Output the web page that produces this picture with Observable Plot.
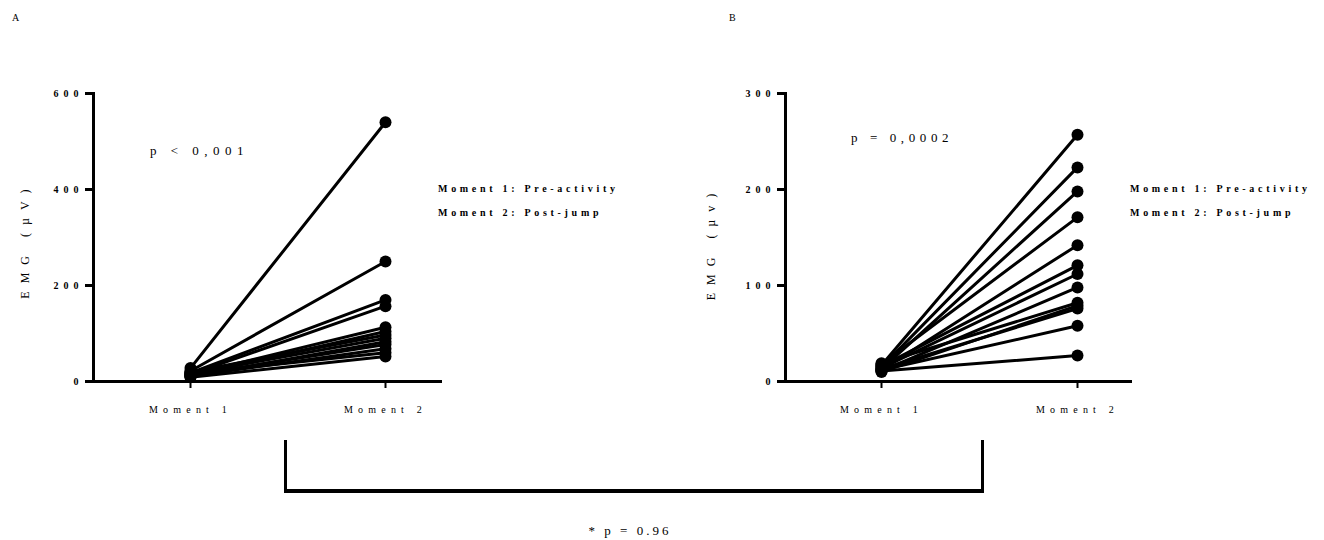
<!DOCTYPE html>
<html>
<head>
<meta charset="utf-8">
<script src="https://cdn.jsdelivr.net/npm/d3@7"></script>
<script src="https://cdn.jsdelivr.net/npm/@observablehq/plot@0.6"></script>
<style>
  html, body { margin: 0; padding: 0; background: #fff; }
  #root { position: relative; width: 1324px; height: 540px; overflow: hidden; font-family: "Liberation Serif", "DejaVu Serif", serif; color: #000; }
  .panel { position: absolute; top: 0; }
  .lbl { position: absolute; white-space: nowrap; line-height: 1; }
  .panel g[aria-label="y-axis tick label"] text { letter-spacing: 5px; }
  .panel g[aria-label="x-axis tick label"] text { letter-spacing: 5.2px; }
  .bracket { position: absolute; left: 284px; top: 440px; width: 694px; height: 49px; border-left: 3px solid #000; border-right: 3px solid #000; border-bottom: 4px solid #000; }
</style>
</head>
<body>
<div id="root"></div>
<script>
// ---- data ----
const moments = ["Moment 1", "Moment 2"];
const yTicksA = [0, 200, 400, 600];
const yTicksB = [0, 100, 200, 300];
const panelA_moment1 = [28, 22, 18, 15, 14, 12, 20, 16, 10, 13, 11, 17, 9];
const panelA_moment2 = [540, 250, 170, 157, 113, 104, 97, 90, 83, 77, 68, 60, 52];
const panelB_moment1 = [17, 15, 13, 18, 12, 16, 14, 11, 19, 10, 13, 12, 11];
const panelB_moment2 = [257, 223, 198, 171, 142, 121, 112, 98, 82, 79, 76, 58, 27];
const legendLines = ["Moment 1: Pre-activity", "Moment 2: Post-jump"];
const pTextA = "p < 0,001";
const pTextB = "p = 0,0002";
const pTextCompare = "* p = 0.96";
const yLabelA = "EMG (µV)";
const yLabelB = "EMG (µv)";

function rows(m1, m2) {
  const out = [];
  m1.forEach((v, i) => {
    out.push({subject: i, moment: moments[0], emg: v});
    out.push({subject: i, moment: moments[1], emg: m2[i]});
  });
  return out;
}

function panel({data, yDomain, yTicks, marginLeft, marginRight, xRange}) {
  return Plot.plot({
    width: 662,
    height: 540,
    marginLeft,
    marginRight,
    marginTop: 93,
    marginBottom: 159,
    x: {type: "point", domain: moments, range: xRange, padding: 0},
    y: {domain: yDomain},
    style: {fontFamily: '"Liberation Serif", serif', color: "#000", background: "transparent", overflow: "visible"},
    marks: [
      Plot.axisY({ticks: yTicks, tickSize: 8, strokeWidth: 3, tickPadding: 2, fontSize: 10, fontWeight: "bold", label: null}),
      Plot.axisX({tickSize: 7, strokeWidth: 2, tickPadding: 17, fontSize: 10, label: null}),
      Plot.line(data, {x: "moment", y: "emg", z: "subject", stroke: "#000", strokeWidth: 3}),
      Plot.dot(data, {x: "moment", y: "emg", r: 6, fill: "#000"}),
      Plot.frame({anchor: "left", strokeWidth: 3}),
      Plot.frame({anchor: "bottom", strokeWidth: 3})
    ]
  });
}

const root = document.getElementById("root");

const a = panel({data: rows(panelA_moment1, panelA_moment2), yDomain: [0, 600], yTicks: yTicksA, marginLeft: 93, marginRight: 222, xRange: [190, 385]});
a.classList.add("panel"); a.style.left = "0px";
root.appendChild(a);

const b = panel({data: rows(panelB_moment1, panelB_moment2), yDomain: [0, 300], yTicks: yTicksB, marginLeft: 123, marginRight: 194, xRange: [219, 415]});
b.classList.add("panel"); b.style.left = "662px";
root.appendChild(b);

function label(text, css) {
  const d = document.createElement("div");
  d.className = "lbl";
  d.textContent = text;
  Object.assign(d.style, css);
  root.appendChild(d);
  return d;
}

label("A", {left: "12px", top: "13px", fontSize: "10px"});
label("B", {left: "729px", top: "13px", fontSize: "10px"});
label(pTextA, {left: "150px", top: "143.5px", fontSize: "13px", letterSpacing: "5.5px"});
label(pTextB, {left: "851px", top: "130.5px", fontSize: "13px", letterSpacing: "4.6px"});
legendLines.forEach((t, i) => {
  label(t, {left: "438px", top: (184 + 24 * i) + "px", fontSize: "10px", fontWeight: "bold", letterSpacing: "3.7px"});
  label(t, {left: "1130px", top: (184 + 24 * i) + "px", fontSize: "10px", fontWeight: "bold", letterSpacing: "3.7px"});
});
label(yLabelA, {left: "25px", top: "240px", fontSize: "12px", letterSpacing: "8px", transform: "translate(-50%,-50%) rotate(-90deg)"});
label(yLabelB, {left: "711px", top: "243px", fontSize: "12px", letterSpacing: "8px", transform: "translate(-50%,-50%) rotate(-90deg)"});

const br = document.createElement("div");
br.className = "bracket";
root.appendChild(br);

label(pTextCompare, {left: "630px", top: "530px", fontSize: "13px", letterSpacing: "3px", transform: "translate(-50%,-50%)"});
</script>
</body>
</html>
